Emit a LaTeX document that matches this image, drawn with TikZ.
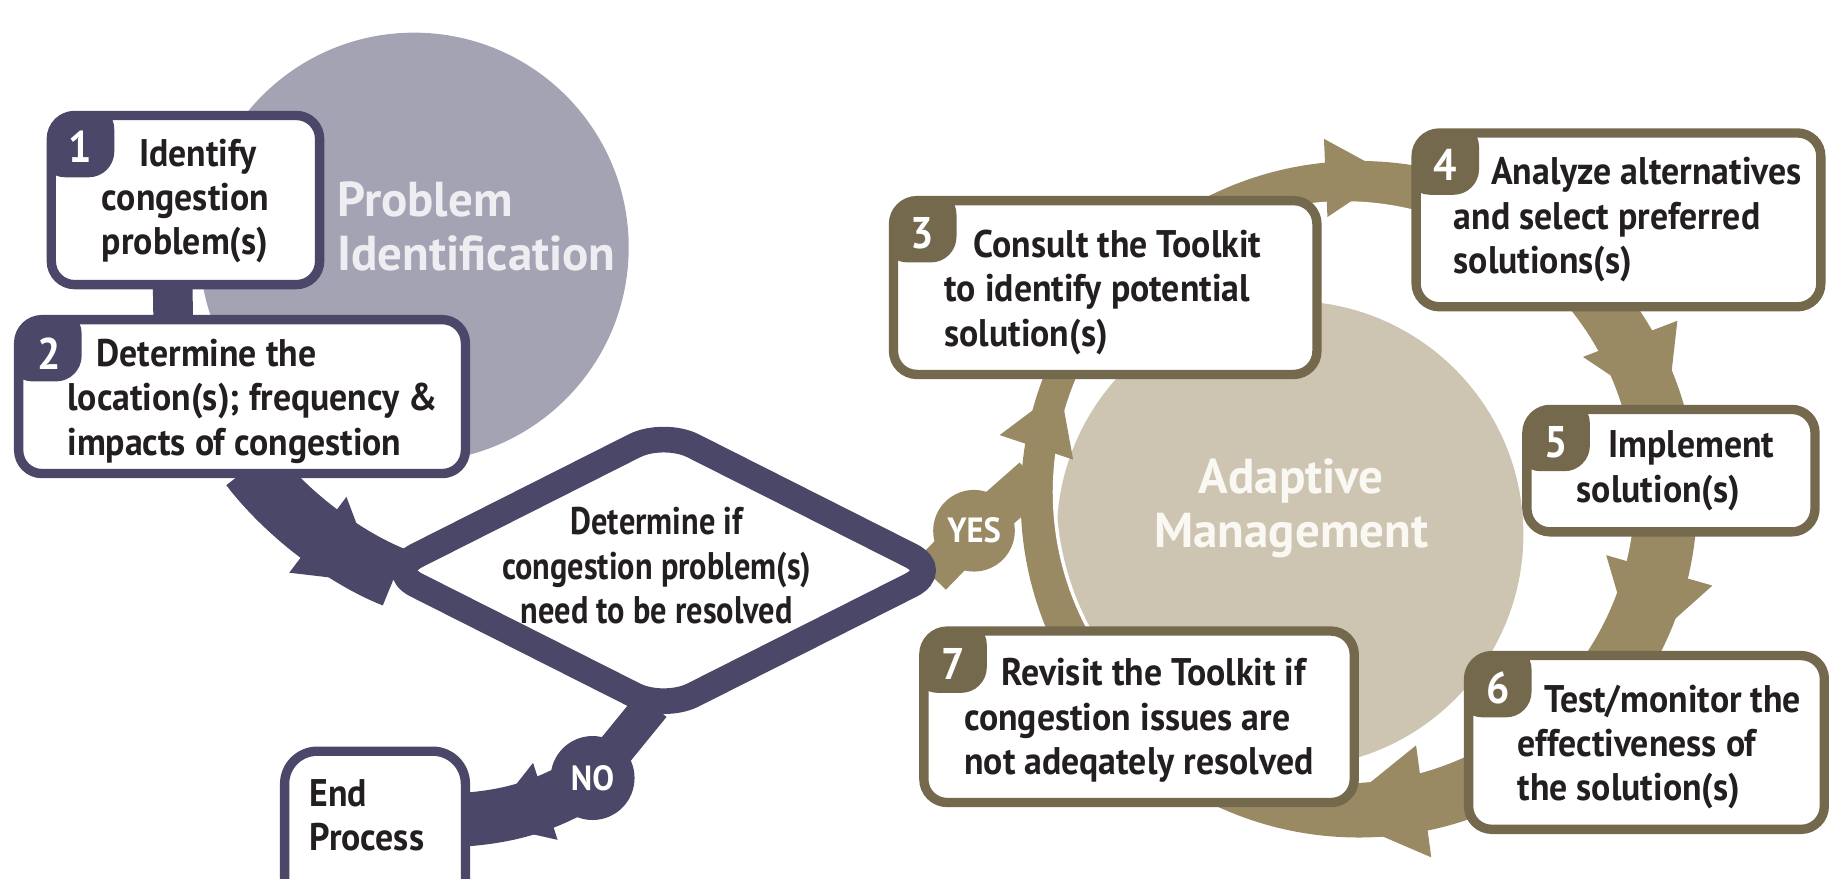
\documentclass[tikz,border=0pt]{standalone}
\usepackage{fontspec}
\setmainfont{PT Sans}
\newfontfamily\condf[FakeStretch=0.93]{PT Sans}
\newfontfamily\condd[FakeStretch=0.84]{PT Sans}
\usetikzlibrary{calc,shapes.geometric}
\pgfdeclarelayer{back}
\pgfdeclarelayer{ribbon}
\pgfsetlayers{back,ribbon,main}
\definecolor{navy}{RGB}{74,71,104}
\definecolor{pigray}{RGB}{164,163,179}
\definecolor{ringtan}{RGB}{153,138,99}
\definecolor{brownb}{RGB}{116,105,77}
\definecolor{beige}{RGB}{205,197,178}
\definecolor{ink}{RGB}{35,31,32}
\definecolor{pitxt}{RGB}{238,238,242}
\definecolor{amtxt}{RGB}{250,248,243}
\tikzset{
  stepbox/.style={draw=#1, line width=4pt, fill=white, rounded corners=10pt,
    outer sep=0pt, inner sep=0pt},
  steptext/.style={inner sep=0pt, text=ink, align=left,
    font=\condf\bfseries\fontsize{16.5}{19}\selectfont},
  numlbl/.style={inner sep=0pt, text=white, font=\condf\bfseries\fontsize{19}{19}\selectfont},
  bigtxt/.style={inner sep=0pt, font=\bfseries\fontsize{21}{23}\selectfont},
  yesno/.style={circle, fill=#1, inner sep=0pt, minimum size=36pt, text=white,
    font=\condf\bfseries\fontsize{15}{15}\selectfont},
}
\newcommand\steptab[2]{%
  \begin{scope}
    \clip[rounded corners=10pt] (#1.south west) rectangle (#1.north east);
    \fill[#2, rounded corners=11pt] ($(#1.north west)+(-10,-10)$) rectangle ($(#1.north west)+(54,53)$);
  \end{scope}}
\begin{document}
\begin{tikzpicture}[x=0.5pt,y=-0.5pt]
\useasboundingbox (0,0) rectangle (1568,753);
\clip (0,0) rectangle (1568,753);

% background circles
\begin{pgfonlayer}{back}
  \fill[pigray] (355,212) circle[radius=184];
  \fill[beige] (1106,458) circle[radius=200];
\end{pgfonlayer}

% circle labels
\node[bigtxt, text=pitxt, anchor=west, align=left] (pit) at (289,194) {Problem\\Identification};
\node[bigtxt, text=amtxt, align=center] (amt) at (1107,436) {Adaptive\\Management};

% step boxes
\node[stepbox=navy, minimum width=115pt, minimum height=72.5pt] (b1) at (159,171.5) {};
\node[stepbox=navy, minimum width=191.5pt, minimum height=66pt] (b2) at (207.5,340) {};
\node[stepbox=brownb, minimum width=181.5pt, minimum height=74.5pt] (b3) at (947.5,246.5) {};
\node[stepbox=brownb, minimum width=173.5pt, minimum height=74.5pt] (b4) at (1387.5,188.5) {};
\node[stepbox=brownb, minimum width=123.5pt, minimum height=52.5pt] (b5) at (1432.5,403.5) {};
\node[stepbox=brownb, minimum width=152.5pt, minimum height=74.5pt] (b6) at (1411.5,636.5) {};
\node[stepbox=brownb, minimum width=184.5pt, minimum height=73.5pt] (b7) at (976.5,614.5) {};
\node[stepbox=navy, rounded corners=14pt, minimum width=77.5pt, minimum height=76pt] (endbox) at (321.5,720) {};

% tabs and numbers
\steptab{b1}{navy}\steptab{b2}{navy}
\steptab{b3}{brownb}\steptab{b4}{brownb}\steptab{b5}{brownb}\steptab{b6}{brownb}\steptab{b7}{brownb}
\node[numlbl] (n1) at ($(b1.north west)+(25,27)$) {1};
\node[numlbl] (n2) at ($(b2.north west)+(26,29)$) {2};
\node[numlbl] (n3) at ($(b3.north west)+(25,28)$) {3};
\node[numlbl] (n4) at ($(b4.north west)+(25,27)$) {4};
\node[numlbl] (n5) at ($(b5.north west)+(25,28)$) {5};
\node[numlbl] (n6) at ($(b6.north west)+(25,28)$) {6};
\node[numlbl] (n7) at ($(b7.north west)+(25,28)$) {7};

% box texts
\node[steptext] (t1) at ($(b1.center)+(0,1)$) {\hspace*{16pt}Identify\\congestion\\problem(s)};
\node[steptext] (t2) at ($(b2.center)+(9,4)$) {\hspace*{12.5pt}Determine the\\location(s); frequency \&\\impacts of congestion};
\node[steptext] (t3) at ($(b3.center)+(-2,4)$) {\hspace*{12.5pt}Consult the Toolkit\\to identify potential\\solution(s)};
\node[steptext] (t4) at ($(b4.center)+(8,0)$) {\hspace*{16pt}Analyze alternatives\\and select preferred\\solutions(s)};
\node[steptext] (t5) at ($(b5.center)+(4,0)$) {\hspace*{13.5pt}Implement\\solution(s)};
\node[steptext] (t6) at ($(b6.center)+(11,4)$) {\hspace*{11.5pt}Test/monitor the\\effectiveness of\\the solution(s)};
\node[steptext] (t7) at ($(b7.center)+(0,3)$) {\hspace*{16pt}Revisit the Toolkit if\\congestion issues are\\not adeqately resolved};
\node[steptext, anchor=west] (endtxt) at (265,699) {End\\Process};

% decision diamond
\node[diamond, draw=navy, line width=11pt, fill=white, rounded corners=14pt,
      minimum width=237pt, minimum height=119.5pt, outer sep=0pt, inner sep=0pt] (dia) at (569,489) {};
\node[steptext, align=center, font=\condd\bfseries\fontsize{16.5}{19}\selectfont] (diat) at (563,485)
  {Determine if\\congestion problem(s)\\need to be resolved};

% yes / no
\node[yesno=navy] (no) at (508,667) {NO};
\node[yesno=ringtan, minimum size=35pt] (yes) at (835,455) {YES};

% ribbons
\begin{pgfonlayer}{ribbon}
  % problem identification flow
  \draw[navy, line width=17pt] ($(b1.south)+(-11,0)$) -- ($(b2.north)+(-59,0)$);
  \draw[navy, line width=26pt] ($(b2.south)+(7,-6)$) .. controls (245,440) and (295,478) .. ($(dia.west)+(6,6)$);
  \fill[navy] (297,426) -- (325,500) -- (248,491) -- cycle;
  \draw[navy, line width=16pt] ($(dia.south)+(-10,-4)$) -- (no.center);
  \draw[navy, line width=23pt] (no.center) .. controls (470,690) and (440,700) .. ($(endbox.east)+(-5,-17)$);
  \fill[navy] (457,654) -- (416,706) -- (478,720) -- cycle;
  % adaptive management ring
  \fill[ringtan, even odd rule] (1165,428) circle[radius=290] (1152,422) circle[radius=248];
  \draw[white, line width=1.5pt] (1152,422) circle[radius=248];
  \fill[ringtan] (1135,119) -- (1192,150) -- (1138,186) -- cycle;
  \fill[ringtan] (1357,306) -- (1429,354) -- (1438,275) -- cycle;
  \fill[ringtan] (1377,476) -- (1402,561) -- (1468,502) -- cycle;
  \fill[ringtan] (1214,639) -- (1141,698) -- (1227,735) -- cycle;
  \fill[ringtan] (857,373) -- (909,334) -- (920,394) -- cycle;
  % yes branch
  \coordinate (ringjoin) at (886,410);
  \draw[ringtan, line width=18pt] ($(dia.east)+(-8,4)$) -- (yes.center) -- (ringjoin);
\end{pgfonlayer}
\end{tikzpicture}
\end{document}
